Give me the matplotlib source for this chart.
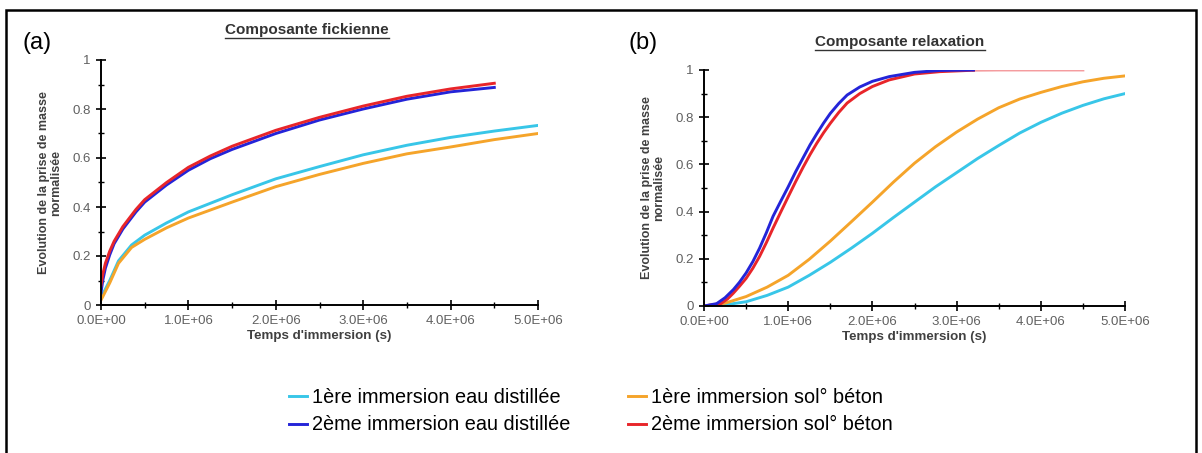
import matplotlib
matplotlib.use("Agg")
import matplotlib.pyplot as plt
import numpy as np
from matplotlib.lines import Line2D
from matplotlib.patches import Rectangle
from matplotlib.ticker import MultipleLocator, FuncFormatter

plt.rcParams['font.family'] = ['Liberation Sans', 'DejaVu Sans']

# Data (time in units of 1E6 s)
labels = ["1ère immersion eau distillée", "2ème immersion eau distillée",
          "1ère immersion sol° béton", "2ème immersion sol° béton"]
colors = ["#38c6e8", "#2424d8", "#f5a42a", "#e8252a"]

# (a) Composante fickienne
fick_t_1 = [0, 0.1, 0.2, 0.35, 0.5, 0.75, 1.0, 1.5, 2.0, 2.5, 3.0, 3.5, 4.0, 4.5, 5.0]
fick_eau_1 = [0.03, 0.10, 0.18, 0.245, 0.285, 0.335, 0.38, 0.45, 0.515, 0.565, 0.613, 0.652, 0.684, 0.71, 0.733]
fick_beton_1 = [0.02, 0.09, 0.17, 0.235, 0.268, 0.315, 0.355, 0.42, 0.483, 0.533, 0.578, 0.617, 0.645, 0.675, 0.70]
fick_t_2 = [0, 0.02, 0.05, 0.1, 0.15, 0.25, 0.4, 0.5, 0.75, 1.0, 1.25, 1.5, 2.0, 2.5, 3.0, 3.5, 4.0, 4.5]
fick_eau_2 = [0.05, 0.10, 0.15, 0.205, 0.25, 0.31, 0.38, 0.42, 0.49, 0.55, 0.597, 0.635, 0.70, 0.755, 0.80, 0.84, 0.87, 0.888]
fick_beton_2 = [0.08, 0.125, 0.17, 0.22, 0.26, 0.32, 0.39, 0.43, 0.50, 0.562, 0.608, 0.648, 0.713, 0.766, 0.812, 0.852, 0.882, 0.905]

# (b) Composante relaxation
relax_t_1 = [0, 0.25, 0.5, 0.75, 1.0, 1.25, 1.5, 1.75, 2.0, 2.25, 2.5, 2.75, 3.0, 3.25, 3.5, 3.75, 4.0, 4.25, 4.5, 4.75, 5.0]
relax_eau_1 = [0, 0.005, 0.018, 0.045, 0.08, 0.13, 0.185, 0.245, 0.308, 0.375, 0.44, 0.505, 0.565, 0.625, 0.68, 0.733, 0.778, 0.817, 0.85, 0.878, 0.90]
relax_beton_1 = [0, 0.012, 0.04, 0.08, 0.13, 0.198, 0.275, 0.357, 0.44, 0.525, 0.605, 0.675, 0.737, 0.792, 0.84, 0.877, 0.905, 0.93, 0.95, 0.965, 0.975]
relax_t_eau_2 = [0, 0.15, 0.25, 0.35, 0.42, 0.5, 0.58, 0.66, 0.74, 0.82, 0.91, 1.0, 1.09, 1.18, 1.26, 1.34, 1.42, 1.5, 1.6, 1.7, 1.85, 2.0, 2.2, 2.5, 2.8, 3.2]
relax_eau_2 = [0, 0.01, 0.035, 0.07, 0.1, 0.14, 0.188, 0.245, 0.31, 0.38, 0.443, 0.505, 0.57, 0.63, 0.683, 0.73, 0.775, 0.816, 0.858, 0.894, 0.928, 0.952, 0.972, 0.99, 0.998, 1.0]
relax_t_beton_2 = [0, 0.2, 0.28, 0.35, 0.42, 0.5, 0.58, 0.66, 0.74, 0.82, 0.91, 1.0, 1.09, 1.18, 1.26, 1.34, 1.42, 1.5, 1.6, 1.7, 1.85, 2.0, 2.2, 2.5, 2.8, 3.2, 3.5, 4.5]
relax_beton_2 = [0, 0.01, 0.03, 0.055, 0.083, 0.117, 0.16, 0.21, 0.268, 0.33, 0.397, 0.463, 0.528, 0.59, 0.642, 0.69, 0.734, 0.774, 0.82, 0.86, 0.9, 0.93, 0.958, 0.983, 0.993, 0.999, 1.0, 1.0]

W, H = 1202, 453
fig = plt.figure(figsize=(W / 100, H / 100), dpi=100)

def px_box(x0, y0, x1, y1):
    return [x0 / W, 1 - y1 / H, (x1 - x0) / W, (y1 - y0) / H]

ax1 = fig.add_axes(px_box(101, 60, 538, 305))
ax2 = fig.add_axes(px_box(704, 70, 1125, 306))

lw = 2.1
e1 = np.array(fick_t_1) * 1e6
e2 = np.array(fick_t_2) * 1e6
h1, = ax1.plot(e1, fick_eau_1, color=colors[0], lw=lw)
h3, = ax1.plot(e1, fick_beton_1, color=colors[2], lw=lw)
h2, = ax1.plot(e2, fick_eau_2, color=colors[1], lw=lw)
h4, = ax1.plot(e2, fick_beton_2, color=colors[3], lw=lw)

ax2.plot(np.array(relax_t_1) * 1e6, relax_eau_1, color=colors[0], lw=lw)
ax2.plot(np.array(relax_t_1) * 1e6, relax_beton_1, color=colors[2], lw=lw)
rt = np.array(relax_t_beton_2) * 1e6
rb = np.array(relax_beton_2)
ax2.plot(rt[:-2], rb[:-2], color=colors[3], lw=lw)
ax2.plot(rt[-3:], rb[-3:], color=colors[3], lw=lw, alpha=0.45)
ax2.plot(np.array(relax_t_eau_2) * 1e6, relax_eau_2, color=colors[1], lw=lw)

for ax in (ax1, ax2):
    ax.set_xlim(0, 5e6)
    ax.set_ylim(0, 1)
    ax.spines['top'].set_visible(False)
    ax.spines['right'].set_visible(False)
    ax.spines['left'].set_linewidth(1.4)
    ax.spines['bottom'].set_linewidth(1.4)
    ax.xaxis.set_major_locator(MultipleLocator(1e6))
    ax.xaxis.set_minor_locator(MultipleLocator(0.5e6))
    ax.yaxis.set_major_locator(MultipleLocator(0.2))
    ax.yaxis.set_minor_locator(MultipleLocator(0.1))
    ax.xaxis.set_major_formatter(FuncFormatter(lambda v, p: f"{v:.1E}"))
    ax.yaxis.set_major_formatter(FuncFormatter(lambda v, p: f"{v:g}"))
    ax.tick_params(which='major', direction='inout', length=7, width=1.2,
                   labelsize=9.5, labelcolor='#606060', pad=4)
    ax.tick_params(which='minor', direction='inout', length=4, width=1.0)
    ax.set_xlabel("Temps d'immersion (s)", fontsize=9.6, fontweight='bold',
                  color='#404040', labelpad=2)
    ax.set_ylabel("Evolution de la prise de masse\nnormalisée", fontsize=9,
                  fontweight='bold', color='#404040', labelpad=7, linespacing=1.1)
    ax.set_clip_on(False)

fig.text(22 / W, 1 - 43 / H, "(a)", fontsize=17, va='center', ha='left')
fig.text(628 / W, 1 - 43 / H, "(b)", fontsize=17, va='center', ha='left')
t1 = fig.text(307 / W, 1 - 30 / H, "Composante fickienne", fontsize=11,
              fontweight='bold', color='#333333', ha='center', va='center')
t2 = fig.text(900 / W, 1 - 42 / H, "Composante relaxation", fontsize=11,
              fontweight='bold', color='#333333', ha='center', va='center')

fig.legend([h1, h2, h3, h4], labels, ncol=2, frameon=False, fontsize=14.3,
           loc='center', bbox_to_anchor=(591 / W, 1 - 411 / H),
           handlelength=0.9, handletextpad=0.25, columnspacing=2.9,
           labelspacing=0.45)

# frame around the whole figure
fig.add_artist(Rectangle((6 / W, -0.05), 1190 / W, 1.05 - 10 / H,
                         transform=fig.transFigure, fill=False,
                         edgecolor='black', lw=1.8))

# underline the titles
fig.canvas.draw()
r = fig.canvas.get_renderer()
for t in (t1, t2):
    bb = t.get_window_extent(r).transformed(fig.transFigure.inverted())
    fig.add_artist(Line2D([bb.x0, bb.x1], [bb.y0 - 1 / H] * 2,
                          transform=fig.transFigure, color='#333333', lw=1.0))

fig.savefig("out.png", dpi=100)
